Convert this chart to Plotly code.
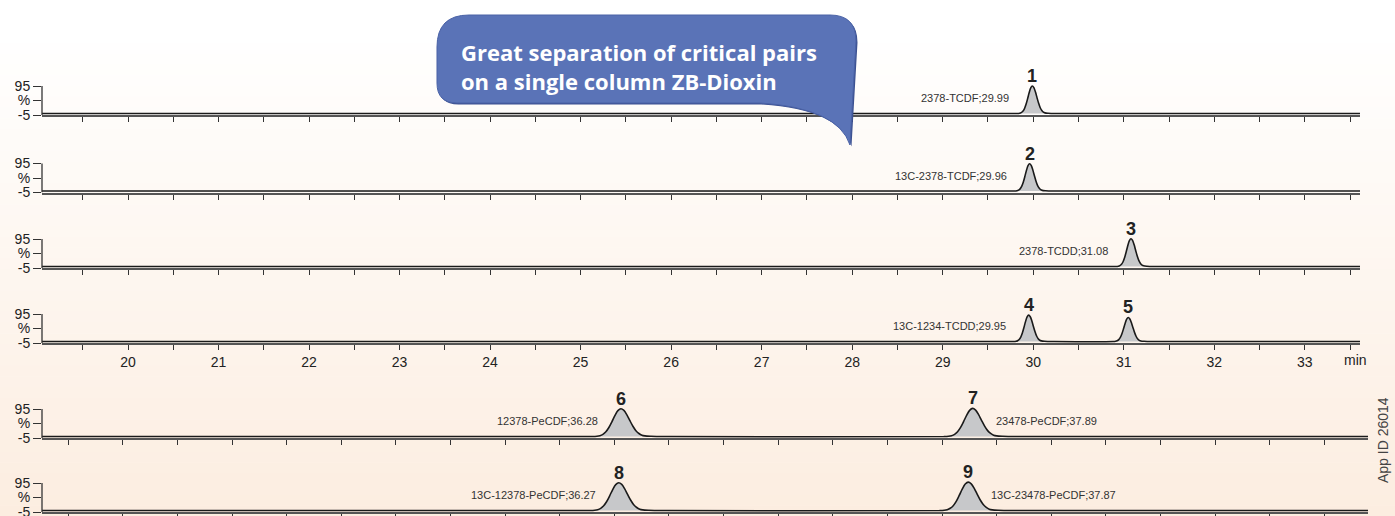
import plotly.graph_objects as go

W, H = 1395, 516

# ---------------- data ----------------
peak_numbers = ["1", "2", "3", "4", "5", "6", "7", "8", "9"]
peak_panel = [0, 1, 2, 3, 3, 4, 4, 5, 5]
peak_rt = [29.99, 29.96, 31.08, 29.95, 31.05, 36.28, 37.89, 36.27, 37.87]
peak_height = [95, 94, 96, 91, 83, 96, 97, 96, 98]
peak_halfwidth = [0.14, 0.14, 0.14, 0.14, 0.14, 0.11, 0.11, 0.11, 0.11]
peak_labels = ["2378-TCDF;29.99", "13C-2378-TCDF;29.96", "2378-TCDD;31.08",
               "13C-1234-TCDD;29.95", "", "12378-PeCDF;36.28", "23478-PeCDF;37.89",
               "13C-12378-PeCDF;36.27", "13C-23478-PeCDF;37.87"]
label_side = ["left", "left", "left", "left", "", "left", "right", "left", "right"]

# peak shape (offset in half-widths, fraction of apex)
profile_offset = [-1.2, -1.0, -0.875, -0.75, -0.625, -0.5, -0.375, -0.25, -0.125, 0.0,
                  0.125, 0.25, 0.375, 0.5, 0.625, 0.75, 0.875, 1.0, 1.25, 1.5, 2.0]
profile_height = [0.0, 0.01, 0.032, 0.08, 0.172, 0.325, 0.531, 0.755, 0.932, 1.0,
                  0.94, 0.78, 0.57, 0.37, 0.21, 0.11, 0.05, 0.025, 0.01, 0.004, 0.0]

top_range = [19.05, 33.61]
bottom_range = [33.63, 39.70]
top_tickvals = [19.5, 20, 20.5, 21, 21.5, 22, 22.5, 23, 23.5, 24, 24.5, 25, 25.5, 26, 26.5,
                27, 27.5, 28, 28.5, 29, 29.5, 30, 30.5, 31, 31.5, 32, 32.5, 33, 33.5]
top_ticktext = ["", "20", "", "21", "", "22", "", "23", "", "24", "", "25", "", "26", "",
                "27", "", "28", "", "29", "", "30", "", "31", "", "32", "", "33", ""]
y_tickvals = [-5, 45, 95]
y_ticktext = ["-5", "%", "95"]
callout_text = "Great separation of critical pairs<br>on a single column ZB-Dioxin"
app_id = "App ID 26014"

# ---------------- layout geometry (pixels) ----------------
panel_base_px = [115, 192.5, 268, 343, 438, 512]
px_per_unit = 0.29
y_range = [-5, 130]
x_left_px = 42
x_right_px = [1360, 1360, 1360, 1360, 1368, 1368]

FONT = "Liberation Sans, Arial, Helvetica, sans-serif"
INK = "#222222"


def px_x(p):
    return p / W


def px_y(p):
    return 1 - p / H


fig = go.Figure()
layout = dict(
    width=W, height=H, margin=dict(l=0, r=0, t=0, b=0, autoexpand=False),
    paper_bgcolor="#ffffff", plot_bgcolor="rgba(0,0,0,0)",
    showlegend=False, font=dict(family=FONT, color=INK),
)
shapes = []
annotations = []

# background gradient (white top -> light peach bottom)
top_c = (255, 255, 255)
bot_c = (252, 237, 224)
n_bands = 48
band = H / n_bands
for i in range(n_bands):
    t = max(0.0, (i * band + band / 2 - 30) / (H - 30))
    c = tuple(round(top_c[k] + (bot_c[k] - top_c[k]) * t) for k in range(3))
    shapes.append(dict(type="rect", xref="paper", yref="paper", x0=0, x1=1,
                       y0=px_y((i + 1) * band + 0.5), y1=px_y(i * band),
                       fillcolor="rgb(%d,%d,%d)" % c, line=dict(width=0), layer="below"))

for p in range(6):
    ax = "" if p == 0 else str(p + 1)
    base = panel_base_px[p]
    top = base - (y_range[1] - y_range[0]) * px_per_unit
    is_top = p < 4
    xr = top_range if is_top else bottom_range

    # trace built from peak list
    xs = [xr[0]]
    ys = [0.0]
    idx = sorted([i for i in range(len(peak_rt)) if peak_panel[i] == p], key=lambda i: peak_rt[i])
    for i in idx:
        for o, h in zip(profile_offset, profile_height):
            xs.append(peak_rt[i] + o * peak_halfwidth[i])
            ys.append(peak_height[i] * h)
    xs.append(xr[1])
    ys.append(0.0)
    fig.add_trace(go.Scatter(
        x=xs, y=ys, mode="lines", line=dict(color="#1a1a1a", width=1.6, shape="spline", smoothing=0.8),
        fill="tozeroy", fillcolor="#c7c8ca", xaxis="x" + ax, yaxis="y" + ax, hoverinfo="skip"))

    xa = dict(domain=[px_x(x_left_px), px_x(x_right_px[p])], range=xr, anchor="y" + ax,
              automargin=False,
              showline=True, linecolor="#555555", linewidth=2.4, showgrid=False, zeroline=False,
              ticks="outside", ticklen=5, tickwidth=1.3, tickcolor="#333333")
    if is_top:
        if p == 3:
            xa.update(tickmode="array", tickvals=top_tickvals, ticktext=top_ticktext,
                      tickfont=dict(size=14, color=INK, family=FONT))
        else:
            xa.update(tickmode="array", tickvals=top_tickvals, showticklabels=False)
    else:
        xa.update(tickmode="linear", tick0=33.75, dtick=0.25, showticklabels=False)
    ya = dict(domain=[px_y(base), px_y(top)], range=y_range, anchor="x" + ax,
              automargin=False, ticklabeloverflow="allow",
              showline=False, showgrid=False, zeroline=False,
              tickmode="array", tickvals=y_tickvals, ticktext=y_ticktext,
              ticks="outside", ticklen=8, tickwidth=1.3, tickcolor="#333333",
              tickfont=dict(size=14, color=INK, family=FONT))
    layout["xaxis" + ax] = xa
    layout["yaxis" + ax] = ya
    # vertical y-axis line from -5 to 95
    shapes.append(dict(type="line", xref="x" + ax + " domain", yref="y" + ax,
                       x0=0, x1=0, y0=y_tickvals[0], y1=y_tickvals[-1],
                       line=dict(color="#333333", width=1.3)))

# peak annotations
for i in range(len(peak_rt)):
    p = peak_panel[i]
    ax = "" if p == 0 else str(p + 1)
    annotations.append(dict(x=peak_rt[i], y=peak_height[i], xref="x" + ax, yref="y" + ax,
                            text="<b>" + peak_numbers[i] + "</b>", showarrow=False,
                            xanchor="center", yanchor="bottom", yshift=-2,
                            font=dict(size=18, color=INK, family=FONT)))
    if peak_labels[i]:
        right = label_side[i] == "right"
        annotations.append(dict(x=peak_rt[i], y=53, xref="x" + ax, yref="y" + ax,
                                text=peak_labels[i], showarrow=False,
                                xanchor="left" if right else "right", yanchor="middle",
                                xshift=21 if right else -21,
                                font=dict(size=11, color="#333333", family=FONT)))

annotations.append(dict(x=px_x(1355), y=px_y(360), xref="paper", yref="paper", text="min",
                        showarrow=False, xanchor="center", yanchor="middle",
                        font=dict(size=14, color=INK, family=FONT)))
annotations.append(dict(x=px_x(1383), y=px_y(440), xref="paper", yref="paper", text=app_id,
                        showarrow=False, textangle=-90, xanchor="center", yanchor="middle",
                        font=dict(size=14, color="#444444", family=FONT)))


# callout bubble
def bubble_path(dx=0.0, dy=0.0):
    L, T, R, B = 437 + dx, 15 + dy, 856 + dx, 103 + dy

    def P(x, y):
        return "%.5f,%.5f" % (px_x(x), px_y(y))
    r1, r2, r3 = 32, 26, 20
    d = "M" + P(L + r1, T)
    d += " L" + P(R - r2, T)
    d += " Q" + P(R, T) + " " + P(R, T + r2)
    d += " L" + P(850 + dx, 145 + dy)
    d += " Q" + P(838 + dx, 108 + dy) + " " + P(760 + dx, B)
    d += " L" + P(L + r3, B)
    d += " Q" + P(L, B) + " " + P(L, B - r3)
    d += " L" + P(L, T + r1)
    d += " Q" + P(L, T) + " " + P(L + r1, T)
    d += " Z"
    return d


shapes.append(dict(type="path", xref="paper", yref="paper", path=bubble_path(1.5, 1.5),
                   fillcolor="#3c5190", line=dict(width=0)))
shapes.append(dict(type="path", xref="paper", yref="paper", path=bubble_path(0, 0),
                   fillcolor="#5a73b7", line=dict(color="#4a62a6", width=1)))
annotations.append(dict(x=px_x(459), y=px_y(66), xref="paper", yref="paper",
                        text="<b>" + callout_text + "</b>", showarrow=False, align="left",
                        xanchor="left", yanchor="middle",
                        font=dict(size=22, color="#ffffff", family="Open Sans, Lato, sans-serif")))

layout["shapes"] = shapes
layout["annotations"] = annotations
fig.update_layout(**layout)
fig.write_html("out.html", config={"displayModeBar": False},
               post_script="document.body.style.margin='0px';document.body.style.background='#fcede0';")
